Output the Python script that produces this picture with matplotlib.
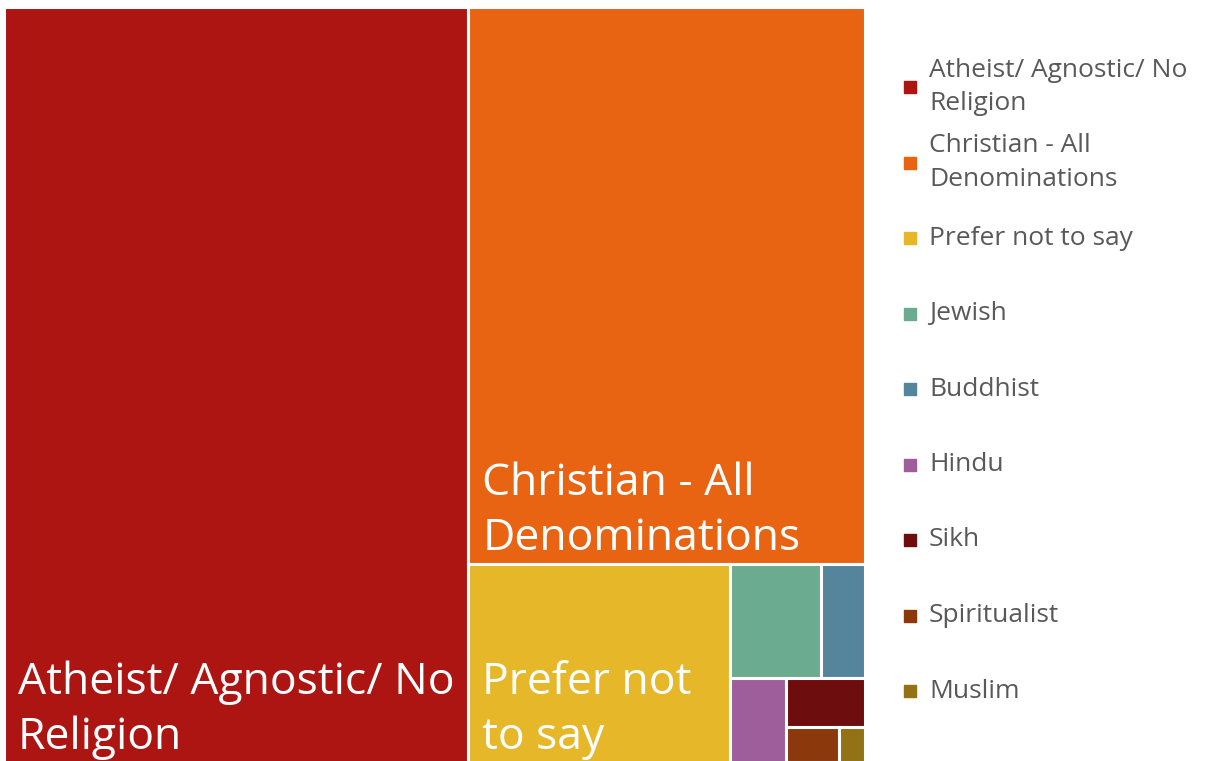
import matplotlib
matplotlib.use("Agg")
import matplotlib.pyplot as plt
from matplotlib.patches import Rectangle

plt.rcParams['font.family'] = ['Open Sans', 'DejaVu Sans']

# religion shares (% of respondents), read from tile areas
categories = ['Atheist/ Agnostic/ No Religion', 'Christian - All Denominations',
              'Prefer not to say', 'Jewish', 'Buddhist', 'Hindu', 'Sikh',
              'Spiritualist', 'Muslim']
tile_labels = ['Atheist/ Agnostic/ No\nReligion', 'Christian - All\nDenominations',
               'Prefer not\nto say', '', '', '', '', '', '']
legend_labels = ['Atheist/ Agnostic/ No\nReligion', 'Christian - All\nDenominations',
                 'Prefer not to say', 'Jewish', 'Buddhist', 'Hindu', 'Sikh',
                 'Spiritualist', 'Muslim']
shares = [54.0, 33.9, 8.0, 1.58, 0.77, 0.73, 0.59, 0.29, 0.14]
colors = ['#AD1513', '#E86413', '#E5B729', '#6BAB8F', '#54859C', '#9D5E9B',
          '#6E0D0D', '#8B390C', '#927214']


def aspect(w, h):
    return max(w / h, h / w)


def strip(row, x, y, w, h):
    # lay a row of areas along the short side of the box
    s = sum(row)
    out = []
    if w >= h:
        cw = s / h
        yy = y
        for v in row:
            out.append((x, yy, cw, v / cw))
            yy += v / cw
        rest = (x + cw, y, w - cw, h)
    else:
        rh = s / w
        xx = x
        for v in row:
            out.append((xx, y, v / rh, rh))
            xx += v / rh
        rest = (x, y + rh, w, h - rh)
    return out, rest


def treemap(areas, x, y, w, h):
    rects = []
    i = 0
    while i < len(areas):
        row = [areas[i]]
        i += 1
        while i < len(areas):
            cand = row + [areas[i]]
            r_in, _ = strip(cand, x, y, w, h)
            _, left = strip(row, x, y, w, h)
            r_alone, _ = strip([areas[i]], *left)
            if aspect(*r_in[-1][2:]) <= aspect(*r_alone[0][2:]):
                row = cand
                i += 1
            else:
                break
        out, (x, y, w, h) = strip(row, x, y, w, h)
        rects += out
    return rects


W, H = 861.0, 756.0
total = sum(shares)
areas = [s / total * W * H for s in shares]
rects = treemap(areas, 0, 0, W, H)

fig = plt.figure(figsize=(12.11, 7.61), dpi=100)
ax = fig.add_axes([3.5 / 1211, (761 - 762.5) / 761, W / 1211, H / 761])
ax.set_xlim(0, W)
ax.set_ylim(H, 0)
ax.axis('off')

for (x, y, w, h), c, lab in zip(rects, colors, tile_labels):
    ax.add_patch(Rectangle((x, y), w, h, facecolor=c, edgecolor='white', lw=2.2))
    if lab:
        ax.annotate(lab, xy=(x, y + h), xytext=(14, 3), textcoords='offset pixels',
                    ha='left', va='bottom', color='white', fontsize=32,
                    linespacing=1.3)

# legend
lax = fig.add_axes([895 / 1211, 1 - 728.75 / 761, 316 / 1211, 679.5 / 761])
lax.set_xlim(0, 316)
lax.set_ylim(len(categories) - 0.5, -0.5)
lax.axis('off')
for i, (lab, c) in enumerate(zip(legend_labels, colors)):
    lax.scatter([14.5], [i], s=74, marker='s', color=c)
    lax.text(34, i, lab, ha='left', va='center', color='#595959', fontsize=19,
             linespacing=1.45)

plt.savefig('out.png', dpi=100)
